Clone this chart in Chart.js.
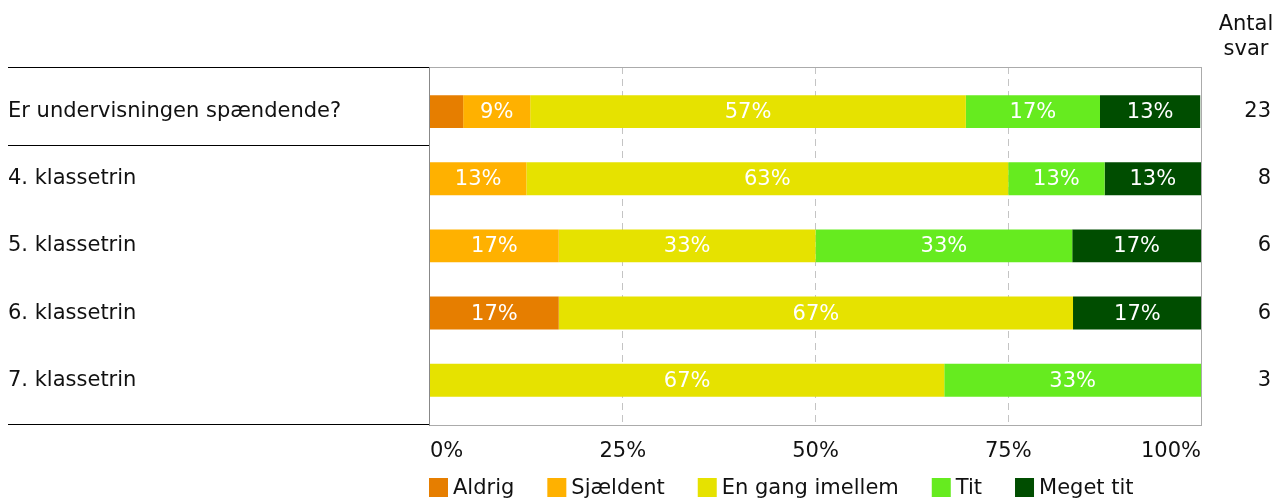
<!DOCTYPE html>
<html>
<head>
<meta charset="utf-8">
<script src="https://cdn.jsdelivr.net/npm/chart.js@4"></script>
<style>
  html, body { margin: 0; padding: 0; background: #fff; }
  #wrap { width: 1276px; height: 499px; position: relative; }
</style>
</head>
<body>
<div id="wrap"><canvas id="chart"></canvas></div>
<script>
// categories (rows) and the "Antal svar" column
const questions = ['Er undervisningen spændende?', '4. klassetrin', '5. klassetrin', '6. klassetrin', '7. klassetrin'];
const answerCounts = ['23', '8', '6', '6', '3'];

// series, in percent per row
const seriesNames = ['Aldrig', 'Sjældent', 'En gang imellem', 'Tit', 'Meget tit'];
const seriesColors = ['#e67e00', '#ffb100', '#e6e200', '#66eb1f', '#004d00'];
const aldrig    = [4.3, null, null, 16.7, null];
const sjaeldent = [8.7, 12.5, 16.7, null, null];
const enGang    = [56.5, 62.5, 33.3, 66.7, 66.7];
const tit       = [17.4, 12.5, 33.3, null, 33.3];
const megetTit  = [13.0, 12.5, 16.7, 16.7, null];

const xTicks = [0, 25, 50, 75, 100];
const gridTicks = [25, 50, 75];

const FONT = '"DejaVu Sans", Verdana, sans-serif';
const FS = 21;
const EXT = 11; // frame sticks out above/below the bar bands

// ✅ frame, dashed grid and the black row lines on the left
const framePlugin = {
    id: 'frame',
    beforeDatasetsDraw(chart) {
        const { ctx, chartArea: a, scales: { x, y } } = chart;
        const top = a.top - EXT, bottom = a.bottom + EXT;
        ctx.save();
        ctx.lineWidth = 1;
        ctx.strokeStyle = '#c4c4c4';
        ctx.setLineDash([7, 5]);
        gridTicks.forEach(v => {
            const px = Math.floor(x.getPixelForValue(v)) + 0.5;
            ctx.beginPath();
            ctx.moveTo(px, top);
            ctx.lineTo(px, bottom);
            ctx.stroke();
        });
        ctx.setLineDash([]);
        ctx.strokeStyle = '#ababab';
        ctx.strokeRect(a.left - 0.5, Math.floor(top) + 0.5, a.right - a.left + 1, Math.round(bottom - top));
        ctx.strokeStyle = '#888';
        ctx.beginPath();
        ctx.moveTo(a.left - 0.5, top);
        ctx.lineTo(a.left - 0.5, bottom + 1);
        ctx.stroke();

        // black lines across the label column
        const sep = (y.getPixelForValue(0) + y.getPixelForValue(1)) / 2;
        ctx.strokeStyle = '#000';
        [top, sep, bottom].forEach(py => {
            const yy = Math.floor(py) + 0.5;
            ctx.beginPath();
            ctx.moveTo(8, yy);
            ctx.lineTo(a.left - 1, yy);
            ctx.stroke();
        });
        ctx.restore();
    },
    afterDatasetsDraw(chart) {
        const { ctx } = chart;
        ctx.save();
        ctx.font = FS + 'px ' + FONT;
        ctx.fillStyle = '#fff';
        ctx.textAlign = 'center';
        ctx.textBaseline = 'middle';
        chart.data.datasets.forEach((ds, d) => {
            chart.getDatasetMeta(d).data.forEach((bar, i) => {
                const v = ds.data[i];
                if (v == null) return;
                if (Math.abs(bar.x - bar.base) < 40) return;
                ctx.fillText(Math.round(v) + '%', (bar.x + bar.base) / 2, bar.y + 1);
            });
        });
        ctx.restore();
    },
    afterDraw(chart) {
        const { ctx, chartArea: a } = chart;
        ctx.save();
        ctx.font = FS + 'px ' + FONT;
        ctx.fillStyle = '#111';
        // header of the count column
        ctx.textAlign = 'center';
        ctx.textBaseline = 'alphabetic';
        ctx.fillText('Antal', 1246, 30);
        ctx.fillText('svar', 1246, 55);

        // legend
        ctx.textAlign = 'left';
        ctx.textBaseline = 'middle';
        let lx = a.left - 1;
        seriesNames.forEach((name, i) => {
            ctx.fillStyle = seriesColors[i];
            ctx.fillRect(lx, 478, 19, 19);
            ctx.fillStyle = '#111';
            ctx.fillText(name, lx + 24, 489);
            lx += 24 + ctx.measureText(name).width + 33;
        });
        ctx.restore();
    }
};

const seriesData = [aldrig, sjaeldent, enGang, tit, megetTit];

new Chart(document.getElementById('chart'), {
    type: 'bar',
    data: {
        labels: questions,
        datasets: seriesNames.map((name, i) => ({
            label: name,
            data: seriesData[i],
            backgroundColor: seriesColors[i],
            borderWidth: 0,
            barPercentage: 0.49,
            categoryPercentage: 1
        }))
    },
    options: {
        indexAxis: 'y',
        responsive: true,
        maintainAspectRatio: false,
        animation: false,
        layout: { padding: { left: 8, right: 5, top: 78, bottom: 10 } },
        plugins: {
            legend: { display: false },
            tooltip: { enabled: false }
        },
        scales: {
            x: {
                stacked: true,
                min: 0,
                max: 100,
                afterBuildTicks: s => { s.ticks = xTicks.map(v => ({ value: v })); },
                ticks: {
                    callback: v => v + '%',
                    color: '#111',
                    font: { family: FONT, size: FS },
                    padding: 25,
                    align: 'inner',
                    maxRotation: 0
                },
                grid: { display: false, drawTicks: false },
                border: { display: false }
            },
            y: {
                stacked: true,
                afterFit: s => { s.width = 422; },
                ticks: {
                    crossAlign: 'far',
                    color: '#111',
                    font: { family: FONT, size: FS }
                },
                grid: { display: false, drawTicks: false },
                border: { display: false }
            },
            y2: {
                type: 'category',
                position: 'right',
                labels: answerCounts,
                afterFit: s => { s.width = 70; },
                ticks: {
                    crossAlign: 'far',
                    color: '#111',
                    font: { family: FONT, size: FS }
                },
                grid: { display: false, drawTicks: false },
                border: { display: false }
            }
        }
    },
    plugins: [framePlugin]
});
</script>
</body>
</html>
